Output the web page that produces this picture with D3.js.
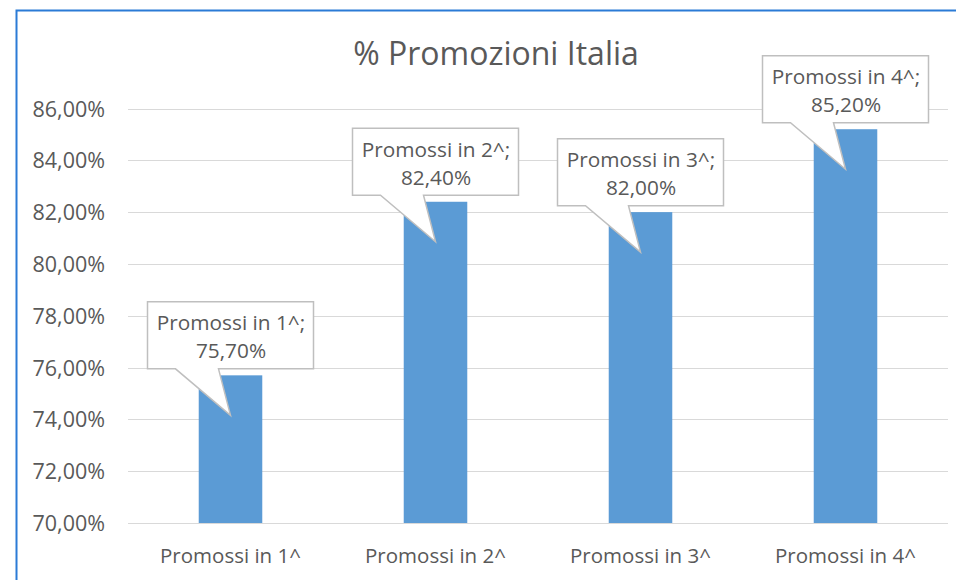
<!DOCTYPE html>
<html>
<head>
<meta charset="utf-8">
<script src="https://cdn.jsdelivr.net/npm/d3@7"></script>
<style>
  body { margin: 0; background: #fff; }
  text { font-family: "Open Sans", sans-serif; fill: #595959; }
</style>
</head>
<body>
<svg></svg>
<script>
var categories = ["Promossi in 1^", "Promossi in 2^", "Promossi in 3^", "Promossi in 4^"];
var values = [75.7, 82.4, 82.0, 85.2];
var yTicks = [70, 72, 74, 76, 78, 80, 82, 84, 86];
var title = "% Promozioni Italia";

var width = 956;
var height = 580;
var svg = d3.select("svg");
svg.attr('width', width).attr('height', height);

var fmt = function(v) {
  return v.toFixed(2).replace('.', ',') + '%';
};

// chart frame
svg.append('rect')
  .attr('x', 16.5)
  .attr('y', 10.5)
  .attr('width', 1000)
  .attr('height', 1000)
  .attr('fill', 'white')
  .attr('stroke', '#2b7bd6')
  .attr('stroke-width', 2);

var xScale = d3.scaleBand()
               .domain(categories)
               .range([128, 948])
               .paddingInner(0.69)
               .paddingOuter(0.345);

var yScale = d3.scaleLinear()
               .domain([70, 86])
               .range([523, 108.5]);

// gridlines
svg.selectAll('line.grid')
  .data(yTicks)
  .enter()
  .append('line')
  .attr('class', 'grid')
  .attr('x1', 128)
  .attr('x2', 948)
  .attr('y1', function(d) { return Math.round(yScale(d)) + 0.5; })
  .attr('y2', function(d) { return Math.round(yScale(d)) + 0.5; })
  .attr('stroke', '#d9d9d9')
  .attr('stroke-width', 1);

// y labels
svg.selectAll('text.ytick')
  .data(yTicks)
  .enter()
  .append('text')
  .attr('class', 'ytick')
  .attr('x', 105)
  .attr('y', function(d) { return yScale(d) + 8; })
  .attr('text-anchor', 'end')
  .attr('font-size', 21.5)
  .text(fmt);

// bars
svg.selectAll('rect.bar')
  .data(values)
  .enter()
  .append('rect')
  .attr('class', 'bar')
  .attr('x', function(d, i) { return xScale(categories[i]); })
  .attr('y', function(d) { return yScale(d); })
  .attr('width', xScale.bandwidth())
  .attr('height', function(d) { return yScale(70) - yScale(d); })
  .attr('fill', '#5b9bd5');

// x labels
svg.selectAll('text.xtick')
  .data(categories)
  .enter()
  .append('text')
  .attr('class', 'xtick')
  .attr('x', function(d) { return xScale(d) + xScale.bandwidth() / 2; })
  .attr('y', 563)
  .attr('text-anchor', 'middle')
  .attr('font-size', 20.5)
  .text(function(d) { return d; });

// title
svg.append('text')
  .attr('x', 496)
  .attr('y', 65)
  .attr('text-anchor', 'middle')
  .attr('font-size', 32)
  .text(title);

// callouts
var callouts = svg.selectAll('g.callout')
  .data(values)
  .enter()
  .append('g')
  .attr('class', 'callout')
  .attr('transform', function(d, i) {
    var cx = xScale(categories[i]) + xScale.bandwidth() / 2;
    return 'translate(' + cx + ',' + yScale(d) + ')';
  });

callouts.append('path')
  .attr('d', 'M-83,-73.5 H83 V-6.5 H-12 L0,40 L-55,-6.5 H-83 Z')
  .attr('fill', 'white')
  .attr('stroke', '#bfbfbf')
  .attr('stroke-width', 1.5);

callouts.append('text')
  .attr('x', 0.5)
  .attr('y', -45)
  .attr('text-anchor', 'middle')
  .attr('font-size', 20.8)
  .text(function(d, i) { return categories[i] + ';'; });

callouts.append('text')
  .attr('x', 0.5)
  .attr('y', -17)
  .attr('text-anchor', 'middle')
  .attr('font-size', 20.8)
  .text(fmt);
</script>
</body>
</html>
